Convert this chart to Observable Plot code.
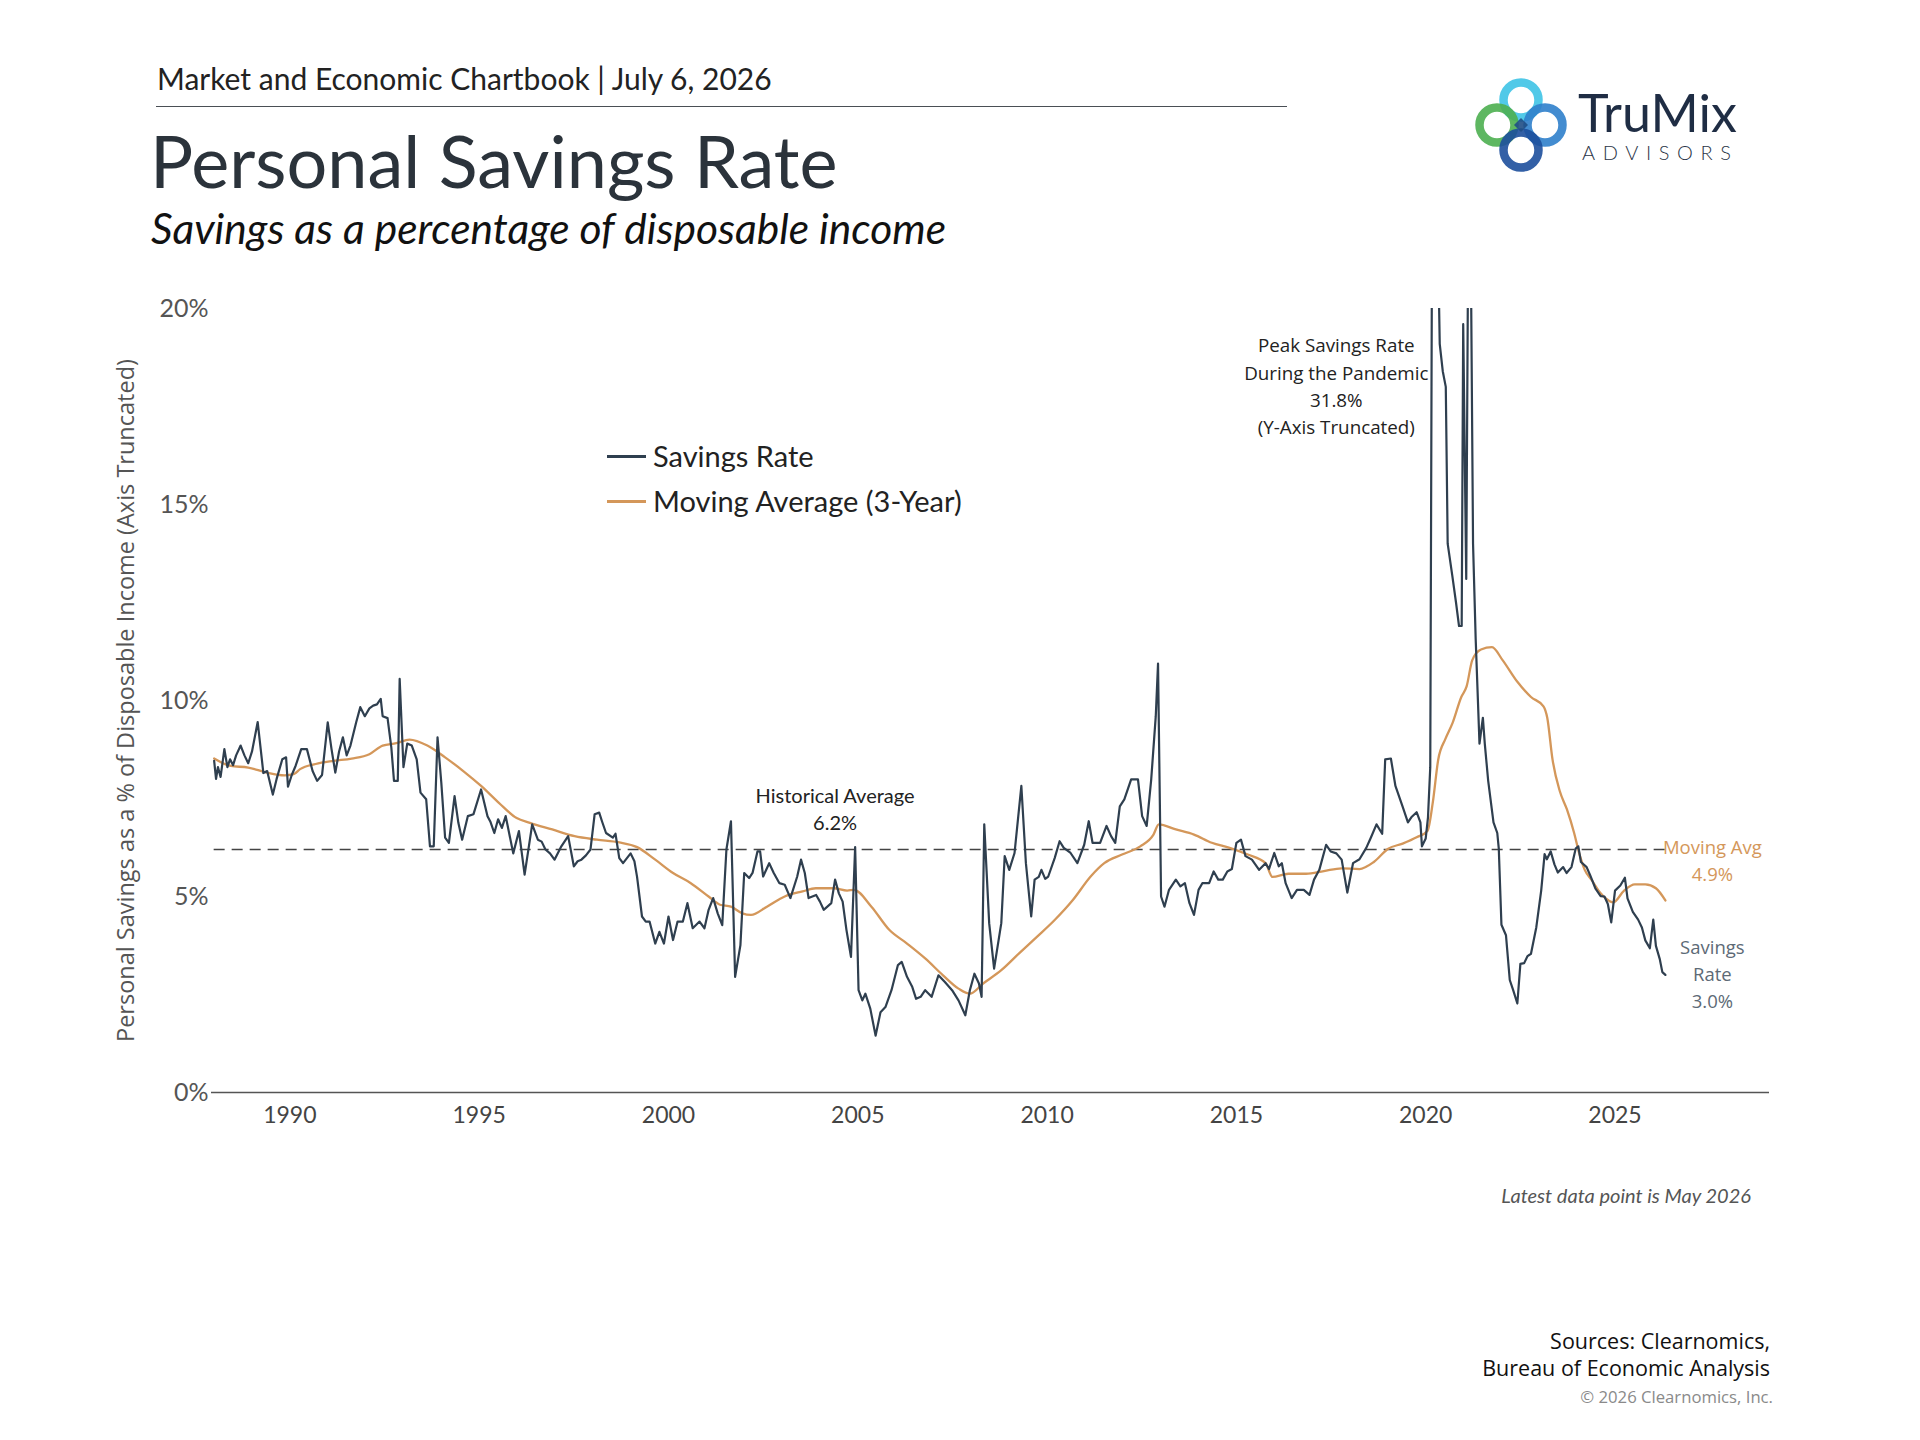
<!DOCTYPE html>
<html>
<head>
<meta charset="utf-8">
<script src="https://cdn.jsdelivr.net/npm/d3@7"></script>
<script src="https://cdn.jsdelivr.net/npm/@observablehq/plot@0.6"></script>
<style>
  html, body { margin: 0; padding: 0; background: #fff; }
  #page { position: relative; width: 1920px; height: 1440px; overflow: hidden; background: #fff; font-family: Lato, sans-serif; }
  .abs { position: absolute; white-space: nowrap; line-height: 1; }
</style>
</head>
<body>
<div id="page">
  <div class="abs" style="left:157px; top:63px; font-size:30px; color:#222;">Market and Economic Chartbook | July 6, 2026</div>
  <div class="abs" style="left:156px; top:106px; width:1131px; height:0; border-top:1.5px solid #4a4f55;"></div>
  <div class="abs" style="left:150px; top:124px; font-size:72px; color:#2b333b;">Personal Savings Rate</div>
  <div class="abs" style="left:151px; top:207px; font-size:42.5px; font-style:italic; color:#111;">Savings as a percentage of disposable income</div>

  <svg class="abs" style="left:1470px; top:70px;" width="110" height="110" viewBox="0 0 110 110">
    <g fill="none" stroke-width="8.5">
      <circle cx="51" cy="30" r="17.5" stroke="#3ec3e6" opacity="0.9"/>
      <circle cx="27" cy="55" r="17.5" stroke="#4caf50" opacity="0.9"/>
      <circle cx="75" cy="55" r="17.5" stroke="#2f7fcb" opacity="0.9"/>
      <circle cx="51" cy="80" r="17.5" stroke="#1d4f9c" opacity="0.9"/>
      <path d="M51 48 L58 55 L51 62 L44 55 Z" fill="#1f4e86" stroke="none" opacity="0.9"/>
    </g>
  </svg>
  <div class="abs" style="left:1578px; top:86px; font-size:52px; color:#1f2d44;">TruMix</div>
  <div class="abs" style="left:1582px; top:142px; font-size:20px; font-weight:300; letter-spacing:7.6px; color:#2a3547;">ADVISORS</div>

  <div id="chart" class="abs" style="left:0; top:280px;"></div>

  <div class="abs" style="left:607px; top:440px;">
    <div style="position:relative; height:32px;">
      <div style="position:absolute; left:0; top:15px; width:39px; height:2.5px; background:#2f3f4f;"></div>
      <div style="position:absolute; left:46px; top:1px; font-size:29px; color:#222;">Savings Rate</div>
    </div>
    <div style="position:relative; height:32px; margin-top:13px;">
      <div style="position:absolute; left:0; top:15px; width:39px; height:2.5px; background:#d4975a;"></div>
      <div style="position:absolute; left:46px; top:1px; font-size:29px; color:#222;">Moving Average (3-Year)</div>
    </div>
  </div>

  <div class="abs" style="right:169px; top:1185px; font-size:20px; font-style:italic; color:#555;">Latest data point is May 2026</div>
  <div class="abs" style="right:150px; top:1327px; font-size:21.5px; line-height:27px; text-align:right; color:#111; font-family:'Open Sans', sans-serif;">Sources: Clearnomics,<br>Bureau of Economic Analysis</div>
  <div class="abs" style="right:147px; top:1389px; font-size:16.7px; color:#8a8a8a; font-family:'Open Sans', sans-serif;">© 2026 Clearnomics, Inc.</div>
</div>

<script>
// ---- Data ----
const savYears = [
  1988.0,1988.05,1988.1,1988.17,1988.27,1988.35,1988.42,1988.5,1988.58,1988.7,1988.8,1988.9,
  1989.0,1989.15,1989.3,1989.4,1989.55,1989.65,1989.8,1989.9,1989.95,
  1990.05,1990.15,1990.3,1990.45,1990.6,1990.72,1990.85,
  1991.0,1991.1,1991.2,1991.3,1991.4,1991.5,1991.6,1991.75,1991.86,1991.98,
  1992.1,1992.2,1992.3,1992.4,1992.45,1992.58,1992.68,1992.75,1992.85,1992.9,
  1993.0,1993.1,1993.22,1993.35,1993.45,1993.6,1993.7,1993.8,1993.9,
  1994.0,1994.1,1994.2,1994.35,1994.45,1994.55,1994.7,1994.85,
  1995.05,1995.22,1995.3,1995.4,1995.5,1995.6,1995.7,1995.9,
  1996.05,1996.2,1996.4,1996.55,1996.65,1996.75,1996.87,1996.99,
  1997.17,1997.35,1997.5,1997.6,1997.7,1997.82,1997.94,
  1998.05,1998.17,1998.25,1998.35,1998.53,1998.6,1998.7,1998.8,
  1999.0,1999.1,1999.17,1999.3,1999.4,1999.5,1999.65,1999.76,1999.88,
  2000.0,2000.12,2000.24,2000.38,2000.5,2000.64,2000.82,2000.95,
  2001.06,2001.18,2001.3,2001.42,2001.53,2001.65,2001.76,2001.9,
  2002.0,2002.13,2002.22,2002.35,2002.42,2002.5,2002.66,2002.78,2002.93,
  2003.07,2003.22,2003.4,2003.5,2003.6,2003.7,2003.8,2003.9,
  2004.0,2004.1,2004.3,2004.4,2004.5,2004.6,2004.7,2004.82,2004.93,
  2005.02,2005.12,2005.2,2005.33,2005.47,2005.6,2005.73,2005.89,
  2006.06,2006.16,2006.3,2006.44,2006.54,2006.66,2006.78,2006.95,
  2007.13,2007.3,2007.49,2007.66,2007.84,2007.96,
  2008.08,2008.2,2008.27,2008.34,2008.47,2008.6,2008.79,2008.88,
  2009.0,2009.14,2009.32,2009.44,2009.58,2009.67,2009.78,2009.85,2009.95,
  2010.03,2010.2,2010.33,2010.44,2010.62,2010.8,2010.98,
  2011.1,2011.2,2011.4,2011.57,2011.69,2011.8,2011.92,
  2012.04,2012.22,2012.4,2012.51,2012.63,2012.75,2012.87,2012.93,
  2013.01,2013.1,2013.22,2013.4,2013.52,2013.64,2013.76,2013.88,
  2014.0,2014.1,2014.28,2014.4,2014.52,2014.64,2014.76,2014.88,
  2015.0,2015.12,2015.24,2015.41,2015.6,2015.77,2015.86,
  2016.0,2016.12,2016.2,2016.3,2016.46,2016.6,2016.78,2016.93,
  2017.05,2017.19,2017.37,2017.49,2017.64,2017.78,2017.93,
  2018.08,2018.25,2018.43,2018.55,2018.7,2018.85,2018.93,
  2019.08,2019.2,2019.39,2019.53,2019.62,2019.76,2019.86,2019.9,
  2020.0,2020.06,2020.12,2020.2,2020.28,2020.37,2020.45,2020.53,2020.58,2020.7,2020.8,2020.88,2020.95,
  2020.99,2021.07,2021.15,2021.25,2021.32,2021.42,2021.51,2021.56,2021.65,2021.79,2021.89,2021.93,
  2022.0,2022.12,2022.22,2022.31,2022.42,2022.5,2022.6,2022.69,2022.78,2022.92,
  2023.05,2023.14,2023.2,2023.3,2023.4,2023.49,2023.63,2023.72,2023.85,2023.96,
  2024.03,2024.1,2024.25,2024.34,2024.48,2024.62,2024.72,2024.81,2024.9,
  2025.0,2025.14,2025.26,2025.33,2025.47,2025.61,2025.71,2025.8,2025.92,
  2026.01,2026.08,2026.18,2026.25,2026.33
];
const savRate = [
  8.46,8.0,8.3,8.05,8.76,8.3,8.5,8.35,8.6,8.85,8.6,8.4,
  8.7,9.45,8.15,8.2,7.6,8.0,8.5,8.55,7.8,
  8.1,8.33,8.76,8.76,8.2,7.95,8.1,
  9.44,8.76,8.16,8.7,9.06,8.6,8.85,9.44,9.83,9.6,
  9.8,9.87,9.9,10.04,9.6,9.55,8.8,7.95,7.95,10.55,
  8.3,8.9,8.85,8.5,7.65,7.48,6.28,6.28,9.06,
  7.9,6.5,6.37,7.56,6.88,6.45,7.05,7.1,
  7.73,7.05,6.9,6.62,6.97,6.75,7.05,6.1,
  6.67,5.56,6.84,6.45,6.4,6.2,6.1,5.94,
  6.28,6.54,5.77,5.9,5.94,6.05,6.2,
  7.1,7.14,6.9,6.62,6.5,6.6,5.98,5.85,
  6.1,5.9,5.5,4.49,4.36,4.36,3.8,4.1,3.8,
  4.49,3.89,4.36,4.36,4.83,4.19,4.36,4.19,
  4.66,4.96,4.57,4.27,6.2,6.92,2.95,3.76,
  5.6,5.47,5.6,6.15,6.15,5.51,5.85,5.6,5.34,
  5.3,4.96,5.51,5.94,5.6,4.96,5.0,5.04,
  4.87,4.66,4.83,5.43,5.08,4.87,4.15,3.46,6.26,
  2.61,2.35,2.52,2.14,1.45,2.05,2.18,2.61,
  3.25,3.33,2.95,2.69,2.39,2.44,2.61,2.44,
  2.99,2.82,2.61,2.35,1.97,2.61,
  3.03,2.78,2.44,6.84,4.32,3.16,4.32,6.03,
  5.68,6.11,7.82,5.85,4.49,5.43,5.5,5.68,5.45,
  5.51,5.98,6.41,6.24,6.11,5.85,6.32,
  6.92,6.37,6.37,6.8,6.54,6.37,7.3,
  7.48,7.99,7.99,7.05,6.8,7.99,9.6,10.94,
  5.0,4.74,5.17,5.43,5.26,5.34,4.83,4.53,
  5.17,5.34,5.34,5.64,5.43,5.43,5.64,5.7,
  6.37,6.45,6.03,5.94,5.68,5.85,5.7,
  6.11,5.77,5.85,5.34,4.96,5.17,5.17,5.04,
  5.43,5.68,6.32,6.15,6.1,5.94,5.1,
  5.85,5.95,6.24,6.5,6.84,6.6,8.5,
  8.52,7.82,7.29,6.89,7.02,7.15,6.89,6.28,
  6.48,7.02,8.3,31.8,24.2,19.1,18.4,18.0,14.0,13.2,12.5,11.9,11.9,
  19.6,13.1,26.6,14.0,11.56,8.9,9.56,8.9,7.95,6.89,6.62,6.22,
  4.28,4.01,2.87,2.61,2.27,3.28,3.3,3.48,3.54,4.21,
  5.15,6.08,5.95,6.15,5.82,5.61,5.75,5.6,5.75,6.22,
  6.28,5.88,5.75,5.55,5.21,5.01,5.0,4.81,4.34,
  5.15,5.28,5.48,4.95,4.61,4.41,4.21,3.88,3.68,
  4.41,3.74,3.41,3.07,3.0
];
const maYears = [
  1988.0,1988.44,1988.9,1989.39,1989.86,1990.1,1990.27,1990.68,1991.16,1991.63,
  1992.1,1992.45,1992.81,1993.16,1993.63,1994.1,1994.58,1995.05,1995.52,1995.99,
  1996.34,1996.93,1997.52,1998.11,1998.7,1999.17,1999.65,2000.12,2000.59,2001.06,
  2001.36,2001.65,2001.95,2002.18,2002.6,2003.07,2003.54,2003.89,2004.36,2004.72,
  2004.9,2005.36,2005.83,2006.3,2006.78,2007.25,2007.66,2007.96,2008.31,2008.79,
  2009.26,2009.73,2010.2,2010.68,2011.15,2011.51,2011.98,2012.46,2012.81,2012.95,
  2013.4,2013.88,2014.35,2014.82,2015.3,2015.77,2015.95,2016.37,2016.84,2017.31,
  2017.78,2018.25,2018.63,2019.01,2019.39,2019.76,2020.05,2020.19,2020.33,2020.52,
  2020.71,2020.94,2021.08,2021.23,2021.46,2021.75,2022.03,2022.41,2022.78,2023.11,
  2023.21,2023.35,2023.54,2023.73,2023.92,2024.06,2024.2,2024.39,2024.62,2024.86,
  2024.95,2025.24,2025.52,2025.8,2026.08,2026.33
];
const maRate = [
  8.52,8.33,8.29,8.16,8.09,8.12,8.25,8.38,8.46,8.52,
  8.63,8.85,8.91,9.0,8.85,8.55,8.2,7.82,7.39,7.0,
  6.88,6.71,6.54,6.45,6.38,6.26,5.94,5.6,5.34,5.0,
  4.79,4.74,4.57,4.53,4.74,5.0,5.13,5.21,5.21,5.15,
  5.17,4.74,4.15,3.8,3.42,2.99,2.65,2.52,2.78,3.12,
  3.55,3.97,4.4,4.91,5.51,5.85,6.07,6.28,6.58,6.84,
  6.71,6.58,6.37,6.24,6.07,5.85,5.5,5.58,5.58,5.65,
  5.72,5.7,5.88,6.22,6.35,6.51,6.68,7.42,8.49,9.02,
  9.43,10.09,10.36,11.03,11.3,11.36,11.03,10.49,10.09,9.85,
  9.56,8.49,7.69,7.22,6.62,6.08,5.68,5.41,5.08,4.88,
  4.85,5.15,5.31,5.31,5.21,4.9
];
const histAvg = 6.2;
const xTicks = [1990, 1995, 2000, 2005, 2010, 2015, 2020, 2025];
const yTicks = [0, 5, 10, 15, 20];
const xDomain = [1987.93, 2029.08];
const yDomain = [0, 20];
const histLabelYear = 2004.4;

// ---- Build tables ----
const sav = savYears.map((x, i) => ({x, y: savRate[i]}));
const ma = maYears.map((x, i) => ({x, y: maRate[i]}));
const lastSav = sav[sav.length - 1];
const lastMa = ma[ma.length - 1];
const peak = sav.reduce((a, b) => (b.y > a.y ? b : a));

const chart = Plot.plot({
  width: 1920,
  height: 872,
  marginTop: 28,
  marginBottom: 60,
  marginLeft: 211,
  marginRight: 151,
  style: {fontFamily: "Lato, sans-serif", fontSize: "23px", color: "#444", background: "transparent", overflow: "visible"},
  x: {domain: xDomain, label: null},
  y: {domain: yDomain, label: null},
  marks: [
    Plot.axisY({ticks: yTicks, tickFormat: d => d + "%", tickSize: 0, tickPadding: 3, fontSize: 25, fill: "#555", label: null}),
    Plot.axisX({ticks: xTicks, tickFormat: d => String(d), tickSize: 0, tickPadding: 14, fontSize: 23, fill: "#444", label: null}),
    Plot.ruleY([0], {stroke: "#555", strokeWidth: 1.5}),
    Plot.ruleY([histAvg], {x1: savYears[0], x2: lastSav.x, stroke: "#444", strokeWidth: 1.6, strokeDasharray: "11,7"}),
    Plot.line(ma, {x: "x", y: "y", stroke: "#d4975a", strokeWidth: 2.3, curve: "monotone-x"}),
    Plot.line(sav, {x: "x", y: "y", stroke: "#2f3f4f", strokeWidth: 2.2, clip: true}),
    Plot.text(["Personal Savings as a % of Disposable Income (Axis Truncated)"], {
      frameAnchor: "left", rotate: -90, dx: -85, text: d => d, textAnchor: "middle",
      fontSize: 23.5, fontFamily: "Open Sans, sans-serif", fill: "#555"
    }),
    Plot.text(["Historical Average\n6.2%"], {
      x: () => histLabelYear, y: () => histAvg, dy: -42, text: d => d,
      lineAnchor: "middle", lineHeight: 1.35, fontSize: 20, fill: "#222"
    }),
    Plot.text(["Peak Savings Rate\nDuring the Pandemic\n31.8%\n(Y-Axis Truncated)"], {
      x: () => peak.x, y: () => yDomain[1], dx: -97, dy: 76, text: d => d,
      lineAnchor: "middle", lineHeight: 1.46, fontSize: 18.8, fontFamily: "Open Sans, sans-serif", fill: "#222"
    }),
    Plot.text(["Moving Avg\n4.9%"], {
      x: () => lastMa.x, y: () => histAvg, dx: 47, dy: 9, text: d => d,
      lineAnchor: "middle", lineHeight: 1.46, fontSize: 18.5, fontFamily: "Open Sans, sans-serif", fill: "#d4975a"
    }),
    Plot.text(["Savings\nRate\n3.0%"], {
      x: () => lastSav.x, y: () => lastSav.y, dx: 47, dy: -3, text: d => d,
      lineAnchor: "middle", lineHeight: 1.46, fontSize: 18.5, fontFamily: "Open Sans, sans-serif", fill: "#5d6a76"
    })
  ]
});
document.getElementById("chart").appendChild(chart);
</script>
</body>
</html>
